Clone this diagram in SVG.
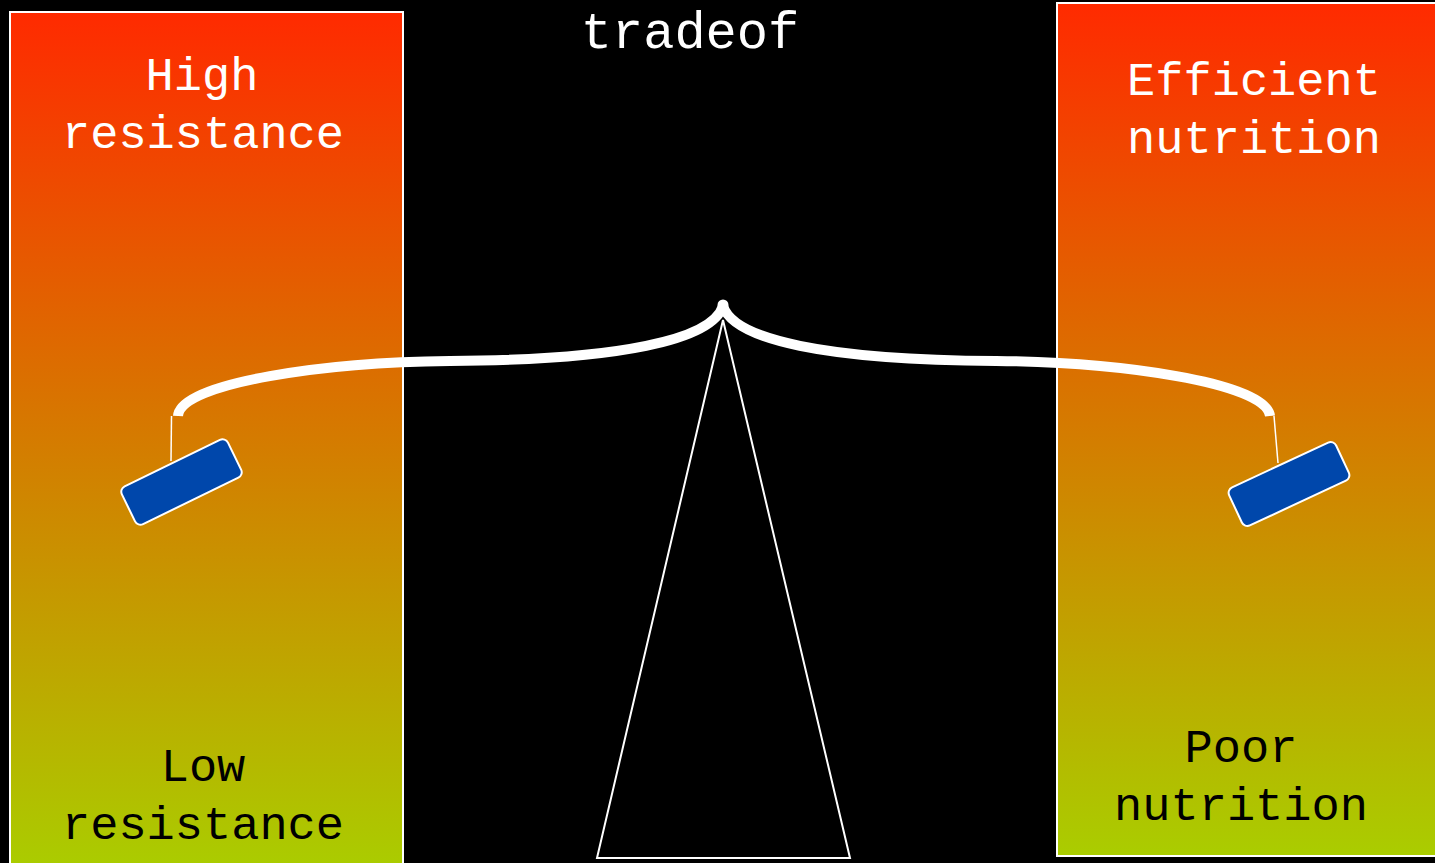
<svg xmlns="http://www.w3.org/2000/svg" width="1435" height="863" viewBox="0 0 1435 863">
<style>
.panel{stroke:#fff;stroke-width:2}
.top{font-family:"Liberation Mono","Courier New",monospace;font-size:47px;fill:#fff;text-anchor:middle}
.bot{font-family:"Liberation Mono","Courier New",monospace;font-size:47px;fill:#000;text-anchor:middle}
.pan{fill:#0047ab;stroke:#fff;stroke-width:2}
.str{stroke:#fff;stroke-width:1.5;fill:none}
</style>
<defs>
<linearGradient id="gl" x1="0" y1="12" x2="0" y2="870" gradientUnits="userSpaceOnUse">
<stop offset="0" stop-color="#ff2a00"/><stop offset="1" stop-color="#aacd00"/>
</linearGradient>
<linearGradient id="gr" x1="0" y1="3" x2="0" y2="856" gradientUnits="userSpaceOnUse">
<stop offset="0" stop-color="#ff2a00"/><stop offset="1" stop-color="#aacd00"/>
</linearGradient>
</defs>
<rect width="1435" height="863" fill="#000"/>
<g id="left-panel">
<rect class="panel" x="10" y="12" width="393" height="860" fill="url(#gl)"/>
<text class="top" x="202" y="90">High</text>
<text class="top" x="203" y="148">resistance</text>
<text class="bot" x="203" y="781">Low</text>
<text class="bot" x="203" y="839">resistance</text>
</g>
<g id="right-panel">
<rect class="panel" x="1057" y="3" width="390" height="853" fill="url(#gr)"/>
<text class="top" x="1254" y="95">Efficient</text>
<text class="top" x="1254" y="153">nutrition</text>
<text class="bot" x="1241" y="762">Poor</text>
<text class="bot" x="1241" y="820">nutrition</text>
</g>
<g id="title">
<text x="690" y="48" font-family="Liberation Mono, Courier New, monospace" font-size="52" fill="#fff" text-anchor="middle">tradeof</text>
</g>
<g id="fulcrum">
<polygon points="723,320 850,858 597,858" fill="none" stroke="#fff" stroke-width="2"/>
</g>
<g id="connectors">
<path d="M 178 416 C 180 382, 330 362, 450 361 C 620 360, 712 340, 723 306 C 734 340, 826 360, 996 361 C 1116 362, 1266 382, 1270 416" fill="none" stroke="#fff" stroke-width="10" stroke-linejoin="round"/>
<circle cx="723" cy="305" r="5.5" fill="#fff"/>
<line class="str" x1="171.5" y1="416" x2="171" y2="461"/>
<line class="str" x1="1274" y1="416" x2="1278" y2="463"/>
</g>
<g id="left-pan">
<rect class="pan" x="-59" y="-21" width="118" height="42" rx="6" transform="translate(181.5,482) rotate(-26)"/>
</g>
<g id="right-pan">
<rect class="pan" x="-59" y="-21" width="118" height="42" rx="6" transform="translate(1289,484) rotate(-25)"/>
</g>
</svg>
